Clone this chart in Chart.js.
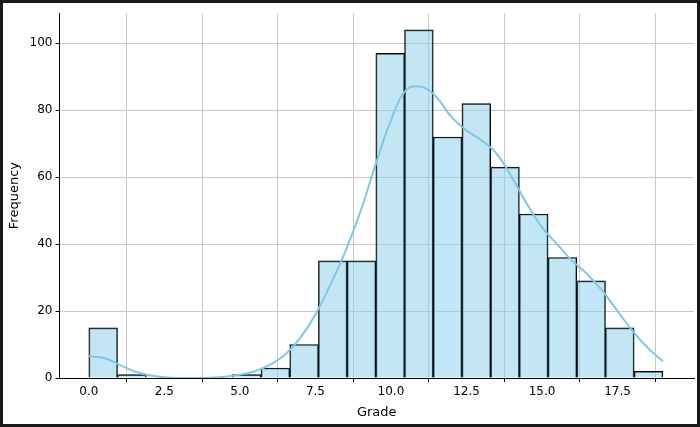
<!DOCTYPE html>
<html><head><meta charset="utf-8">
<script src="https://cdn.jsdelivr.net/npm/chart.js@4/dist/chart.umd.min.js"></script>
<style>
html,body{margin:0;padding:0;background:#fff;}
#wrap{width:694px;height:421px;border:3px solid #1a1a1a;position:relative;}
</style></head><body>
<div id="wrap"><canvas id="c" width="694" height="421"></canvas></div>
<script>
const binStart = 0, binWidth = 0.95;
const counts = [15,1,0,0,0,1,3,10,35,35,97,104,72,82,63,49,36,29,15,2];
const kdeX = [0,0.5,1,1.5,2,2.5,3,3.5,4,4.5,5,5.5,6,6.5,7,7.5,8,8.5,9,9.5,10,10.5,11,11.5,12,12.5,13,13.5,14,14.5,15,15.5,16,16.5,17,17.5,18,18.5,19];
const kdeY = [6.5,6,4,2,0.8,0.2,0,0,0.1,0.4,1,2,4,7,12,19,28,38,50,64,77,86,87,84,78,74,71,67,60,52,45,40,35,31,26,20,14,9,5];
const xTicks = [0,2.5,5,7.5,10,12.5,15,17.5];
const yTicks = [0,20,40,60,80,100];

const bars = counts.map((c,i)=>({x: binStart + binWidth*(i+0.5), y: c}));
const kde = kdeX.map((x,i)=>({x, y: kdeY[i]}));

new Chart(document.getElementById('c'), {
  data: {datasets: [
    {type:'line', data: kde, borderColor:'#7ec8e6', borderWidth:2, pointRadius:0, tension:0.4, order:0},
    {type:'bar', data: bars, backgroundColor:'rgba(135,206,235,0.5)', borderColor:'#000', borderWidth:1,
     barPercentage:1, categoryPercentage:1, order:1}
  ]},
  options: {
    responsive:false, animation:false,
    layout:{padding:{top:2,right:3,left:0,bottom:0}},
    plugins:{legend:{display:false}, tooltip:{enabled:false}},
    scales:{
      x:{type:'linear', min:-0.97, max:20.03, offset:false,
         afterBuildTicks: a=>{a.ticks = xTicks.map(v=>({value:v}));},
         ticks:{color:'#000', font:{family:'DejaVu Sans', size:12}, callback:v=>v.toFixed(1)},
         grid:{color:'#c8c8c8', borderDash:[3,3], drawTicks:true, tickColor:'#000', tickLength:4},
         border:{color:'#000', width:1},
         title:{display:true, text:'Grade', color:'#000', font:{family:'DejaVu Sans', size:13}, padding:{top:2}}},
      y:{min:0, max:109,
         afterBuildTicks: a=>{a.ticks = yTicks.map(v=>({value:v}));},
         ticks:{color:'#000', font:{family:'DejaVu Sans', size:12}},
         grid:{color:'#c8c8c8', borderDash:[3,3], tickColor:'#000', tickLength:4},
         border:{color:'#000', width:1},
         title:{display:true, text:'Frequency', color:'#000', font:{family:'DejaVu Sans', size:13}}}
    }
  }
});
</script>
</body></html>
